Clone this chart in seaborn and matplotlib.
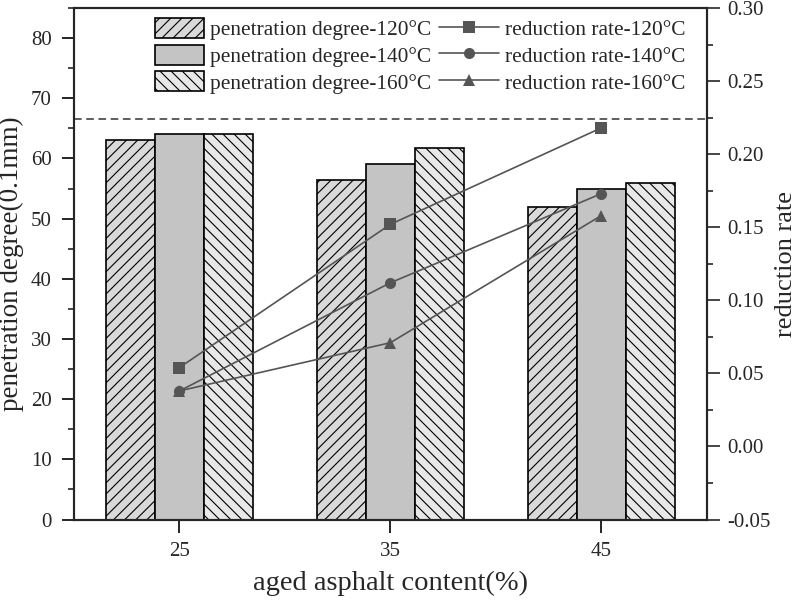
import pandas as pd
import seaborn as sns
import matplotlib.pyplot as plt
import matplotlib.ticker as ticker
import matplotlib.patches as mpatches
from matplotlib.legend_handler import HandlerPatch

# values
contents = ['25', '35', '45']
temps = ['120', '140', '160']
pen_120 = [63.0, 56.4, 52.0]
pen_140 = [64.0, 59.1, 55.0]
pen_160 = [64.0, 61.8, 56.0]
red_120 = [0.054, 0.152, 0.218]
red_140 = [0.038, 0.112, 0.173]
red_160 = [0.038, 0.071, 0.158]
ref_level = 66.5

pen_df = pd.DataFrame({
    'content': contents * 3,
    'temp': [t for t in temps for _ in contents],
    'value': pen_120 + pen_140 + pen_160,
})
red_df = pd.DataFrame({
    'pos': list(range(len(contents))) * 3,
    'temp': [t for t in temps for _ in contents],
    'value': red_120 + red_140 + red_160,
})

sns.set_style('ticks')
plt.rcParams['font.family'] = ['Liberation Serif', 'DejaVu Serif']
plt.rcParams['hatch.linewidth'] = 0.8
plt.rcParams['axes.unicode_minus'] = False

fig = plt.figure(figsize=(8, 6.01), dpi=100)
ax = fig.add_axes([0.0925, 0.1356, 0.791, 0.851])

bar_colors = ['#d9d9d9', '#c4c4c4', '#e8e8e8']
hatches = ['///', '', '\\\\\\']
sns.barplot(data=pen_df, x='content', y='value', hue='temp', order=contents,
            hue_order=temps, palette=bar_colors, width=0.7, saturation=1,
            edgecolor='black', linewidth=1.2, legend=False, ax=ax)
for cont, h in zip(ax.containers, hatches):
    for p in cont:
        p.set_hatch(h)

ax.axhline(ref_level, color='#333333', linestyle=(0, (5, 3)), linewidth=1.1)

ax.set_xlim(-0.5, 2.5)
ax.set_ylim(0, 85)
ax.yaxis.set_major_locator(ticker.MultipleLocator(10))
ax.yaxis.set_minor_locator(ticker.MultipleLocator(5))
ax.set_xlabel('aged asphalt content(%)', fontsize=20.5, labelpad=7)
ax.set_ylabel('penetration degree(0.1mm)', fontsize=19.5, labelpad=5)
ax.tick_params(axis='both', which='major', labelsize=15, direction='out',
               length=9, width=1.2, color='black', pad=7)
ax.tick_params(axis='y', which='minor', direction='out', length=4.5, width=1.2)
for s in ax.spines.values():
    s.set_linewidth(1.5)
    s.set_visible(True)

ax2 = ax.twinx()
sns.lineplot(data=red_df, x='pos', y='value', hue='temp', style='temp',
             hue_order=temps, style_order=temps,
             palette=['#555555'] * 3, markers=['s', 'o', '^'], dashes=False,
             markersize=8, markeredgewidth=0, linewidth=1.2, legend=False, ax=ax2)
ax2.set_ylim(-0.05, 0.30)
ax2.yaxis.set_major_locator(ticker.MultipleLocator(0.05))
ax2.yaxis.set_minor_locator(ticker.MultipleLocator(0.025))
ax2.yaxis.set_major_formatter(ticker.StrMethodFormatter('{x:.2f}'))
ax2.set_ylabel('reduction rate', fontsize=19, labelpad=3)
ax2.set_xlabel('')
ax2.tick_params(axis='y', which='major', labelsize=15, direction='out',
                length=9, width=1.2, pad=6)
ax2.tick_params(axis='y', which='minor', direction='out', length=4.5, width=1.2)
for s in ax2.spines.values():
    s.set_linewidth(1.5)


def narrow_box(legend, orig_handle, xdescent, ydescent, width, height, fontsize):
    w = width * 0.82
    return mpatches.Rectangle((width - w - xdescent, -ydescent), w, height)


bar_handles = [c.patches[0] for c in ax.containers]
handles = bar_handles + list(ax2.lines[:3])
labels = [f'penetration degree-{t}°C' for t in temps] + \
         [f'reduction rate-{t}°C' for t in temps]
ax2.legend(handles, labels, ncol=2, loc='upper right',
           bbox_to_anchor=(0.976, 0.993), frameon=False,
           fontsize=15.4, handlelength=2.8, handleheight=1.07, columnspacing=0.4,
           handletextpad=0.25, labelspacing=0.2, borderaxespad=0, borderpad=0.3,
           handler_map={h: HandlerPatch(patch_func=narrow_box) for h in bar_handles})

fig.savefig('out.png', dpi=100)
